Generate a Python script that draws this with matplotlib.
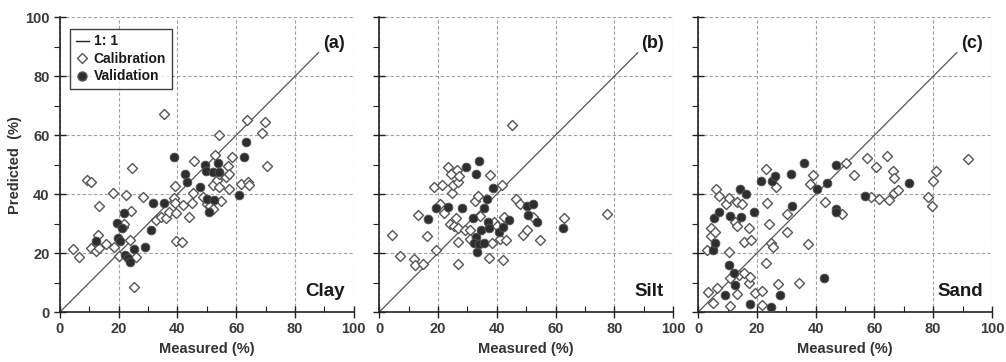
import numpy as np
import matplotlib.pyplot as plt
from matplotlib.lines import Line2D
from matplotlib.ticker import MultipleLocator

# ---- data ----
clay_cal_x = [4.3, 6.6, 9.3, 10.6, 10.4, 12.4, 13.1, 13.3, 13.3, 15.8, 18.1, 18.5, 20.1, 21.5, 21.7,
              22.6, 24.0, 24.2, 24.6, 25.3, 25.8, 28.2, 32.8, 34.4, 35.5, 36.2, 37.1, 38.9, 39.1, 39.3,
              39.5, 39.5, 41.6, 42.0, 43.8, 45.0, 45.2, 45.6, 48.8, 50.0, 51.1, 52.0, 52.0, 52.9, 53.3,
              54.0, 54.2, 54.2, 54.9, 56.5, 57.1, 57.6, 57.6, 58.5, 61.7, 63.7, 63.9, 64.2, 68.7, 69.8, 70.5]
clay_cal_y = [21.3, 18.6, 44.8, 44.2, 21.6, 20.8, 26.0, 36.0, 21.9, 23.1, 40.3, 22.2, 19.0, 29.0, 29.9,
              39.6, 24.4, 34.4, 48.8, 8.6, 18.6, 38.9, 31.4, 32.4, 67.2, 31.8, 33.9, 38.7, 42.8, 36.9,
              33.5, 24.2, 23.8, 36.3, 32.4, 36.9, 40.5, 51.1, 39.1, 36.7, 36.0, 43.0, 34.8, 53.2, 44.8,
              46.8, 60.2, 42.3, 37.6, 45.9, 49.5, 46.8, 41.6, 52.7, 43.4, 65.2, 44.1, 43.0, 60.6, 64.5, 49.5]
clay_val_x = [12.4, 19.4, 21.0, 19.9, 20.3, 21.9, 22.1, 23.1, 24.0, 25.1, 28.9, 31.0, 31.6, 35.3, 38.9,
              42.5, 43.2, 47.7, 49.3, 49.7, 50.2, 50.6, 52.0, 52.4, 53.8, 54.2, 60.8, 62.8, 63.5]
clay_val_y = [24.0, 30.1, 28.5, 25.1, 24.0, 33.5, 19.5, 18.3, 17.0, 21.3, 22.2, 27.8, 36.9, 37.1, 52.5,
              46.8, 44.3, 42.3, 50.0, 48.0, 38.5, 33.9, 47.5, 38.0, 50.5, 47.5, 39.8, 52.5, 57.7]

silt_cal_x = [4.4, 7.2, 11.9, 12.2, 13.1, 14.9, 16.3, 18.8, 19.2, 20.6, 21.3, 21.9, 23.5, 24.2, 24.4,
              24.9, 25.1, 25.3, 26.0, 26.3, 26.9, 27.2, 26.9, 26.9, 26.9, 29.2, 30.8, 30.8, 32.6, 33.5,
              34.2, 37.2, 37.8, 38.3, 39.0, 40.1, 41.0, 41.7, 42.2, 42.4, 43.1, 45.3, 46.7, 47.8, 49.0,
              50.3, 52.2, 54.7, 62.8, 77.4]
silt_cal_y = [26.1, 18.9, 18.0, 15.9, 33.0, 16.4, 25.7, 42.5, 20.9, 36.8, 43.0, 33.6, 49.1, 30.0, 47.0,
              40.5, 43.2, 29.3, 31.8, 48.2, 44.1, 46.1, 28.4, 23.9, 16.4, 28.0, 28.0, 24.8, 37.7, 39.5,
              32.7, 18.4, 46.4, 23.4, 30.5, 29.1, 24.8, 43.2, 17.5, 32.3, 24.5, 63.6, 38.4, 36.8, 26.1,
              28.0, 32.3, 24.3, 31.8, 33.2]
silt_val_x = [16.7, 19.4, 23.3, 28.1, 29.5, 31.9, 33.1, 33.8, 33.1, 32.2, 33.3, 34.0, 34.7, 35.8, 35.8,
              36.7, 36.9, 37.2, 38.8, 40.6, 42.2, 44.2, 50.3, 52.4, 50.6, 53.8, 62.4]
silt_val_y = [31.6, 35.2, 35.7, 35.2, 49.1, 31.8, 46.8, 51.1, 25.5, 23.4, 20.5, 23.0, 27.7, 23.4, 35.2,
              38.2, 30.5, 28.4, 42.0, 27.3, 28.9, 31.1, 36.1, 36.8, 33.0, 30.7, 28.4]

sand_cal_x = [3.1, 3.3, 4.4, 4.4, 4.9, 5.8, 6.0, 6.5, 7.2, 9.4, 10.6, 10.6, 10.8, 10.8, 12.6, 13.1, 13.3,
              13.3, 13.8, 14.9, 15.6, 15.6, 17.2, 17.2, 17.6, 18.1, 19.4, 21.9, 21.9, 23.1, 23.1, 23.5,
              24.0, 24.9, 25.6, 26.5, 27.2, 30.1, 30.3, 34.4, 37.4, 38.1, 39.0, 43.3, 48.8, 50.3, 53.1,
              57.6, 58.8, 60.6, 61.7, 64.2, 65.1, 66.3, 66.7, 66.7, 68.1, 78.1, 79.7, 79.9, 81.0, 91.9]
sand_cal_y = [21.1, 6.8, 28.4, 25.7, 3.0, 27.0, 41.8, 8.2, 39.5, 36.6, 38.6, 20.5, 11.4, 2.0, 30.7, 37.5,
              29.1, 6.1, 12.7, 36.6, 23.9, 13.4, 28.4, 10.0, 12.0, 24.5, 6.6, 7.3, 2.5, 48.6, 16.8, 37.0,
              30.0, 23.4, 22.0, 42.5, 9.5, 27.3, 33.4, 10.0, 23.0, 43.6, 46.4, 37.3, 33.4, 50.5, 46.6,
              52.3, 38.9, 49.1, 38.4, 53.0, 38.0, 48.0, 45.5, 40.5, 41.4, 39.1, 36.1, 44.5, 48.0, 51.8]
sand_val_x = [5.1, 5.8, 5.3, 7.2, 9.2, 10.6, 11.0, 12.2, 12.4, 14.4, 14.7, 16.3, 17.8, 19.0, 21.3, 24.7,
              25.1, 26.0, 27.8, 31.5, 31.9, 36.0, 40.3, 42.8, 44.0, 46.9, 46.9, 46.9, 56.7, 71.7]
sand_val_y = [21.1, 23.4, 31.8, 33.9, 5.9, 15.9, 32.5, 13.4, 9.3, 41.8, 32.3, 40.0, 2.7, 33.9, 44.5, 1.6,
              44.5, 46.1, 5.7, 46.8, 36.1, 50.7, 41.8, 11.6, 43.9, 50.0, 35.0, 33.9, 39.5, 43.9]

panels = [
    ("(a)", "Clay", clay_cal_x, clay_cal_y, clay_val_x, clay_val_y),
    ("(b)", "Silt", silt_cal_x, silt_cal_y, silt_val_x, silt_val_y),
    ("(c)", "Sand", sand_cal_x, sand_cal_y, sand_val_x, sand_val_y),
]

plt.rcParams['font.family'] = ['Liberation Sans', 'DejaVu Sans']
plt.rcParams['font.weight'] = 'bold'

fig = plt.figure(figsize=(10.06, 3.62), dpi=100)
lefts = [0.0596, 0.377, 0.694]
tick_col = '#3a3a3a'

for i, (tag, name, cx, cy, vx, vy) in enumerate(panels):
    ax = fig.add_axes([lefts[i], 0.138, 0.292, 0.814])
    ax.set_xlim(0, 100)
    ax.set_ylim(0, 100)
    ax.xaxis.set_major_locator(MultipleLocator(20))
    ax.yaxis.set_major_locator(MultipleLocator(20))
    ax.xaxis.set_minor_locator(MultipleLocator(10))
    ax.yaxis.set_minor_locator(MultipleLocator(10))
    ax.grid(True, which='major', linestyle=(0, (3, 2)), color='#a0a0a0', linewidth=0.8)
    ax.set_axisbelow(True)
    for s in ['top', 'right']:
        ax.spines[s].set_visible(False)
    for s in ['left', 'bottom']:
        ax.spines[s].set_linewidth(1.2)
        ax.spines[s].set_color('#222222')
    ax.tick_params(which='major', direction='inout', length=8, width=1.0, colors='#222222',
                   labelcolor=tick_col, labelsize=10.5)
    ax.tick_params(axis='x', which='minor', direction='in', length=4, width=0.8, colors='#222222')
    ax.tick_params(axis='y', which='minor', direction='out', length=4, width=0.8, colors='#222222')
    if i > 0:
        ax.tick_params(axis='y', labelleft=False)

    ax.plot([0, 88], [0, 88], color='#555555', linewidth=0.9, zorder=2)
    ax.scatter(cx, cy, marker='D', s=26, facecolor='white', edgecolor='#555555',
               linewidth=1.0, zorder=3)
    ax.scatter(vx, vy, marker='o', s=40, facecolor='#2e2e2e', edgecolor='#555555',
               linewidth=0.6, zorder=4)

    ax.text(97, 91, tag, ha='right', va='center', fontsize=13, fontweight='bold', color='#1a1a1a')
    ax.text(97, 7, name, ha='right', va='center', fontsize=13.5, fontweight='bold', color='#1a1a1a')
    ax.set_xlabel("Measured (%)", fontsize=10.5, fontweight='bold', color='#333333', labelpad=4)
    if i == 0:
        ax.set_ylabel("Predicted  (%)", fontsize=10.5, fontweight='bold', color='#333333', labelpad=2)
        handles = [
            Line2D([], [], color='#222222', linewidth=1.0, label='1: 1'),
            Line2D([], [], marker='D', linestyle='none', markersize=5, markerfacecolor='white',
                   markeredgecolor='#555555', label='Calibration'),
            Line2D([], [], marker='o', linestyle='none', markersize=6.5, markerfacecolor='#2e2e2e',
                   markeredgecolor='#555555', label='Validation'),
        ]
        leg = ax.legend(handles=handles, loc='upper left', bbox_to_anchor=(0.02, 0.975),
                        fontsize=10, frameon=True, fancybox=False, handlelength=1.0,
                        handletextpad=0.3, borderpad=0.4, labelspacing=0.25, borderaxespad=0.3)
        leg.get_frame().set_edgecolor('#111111')
        leg.get_frame().set_linewidth(1.0)
        for t in leg.get_texts():
            t.set_color('#1a1a1a')

fig.savefig('out.png', dpi=100)
